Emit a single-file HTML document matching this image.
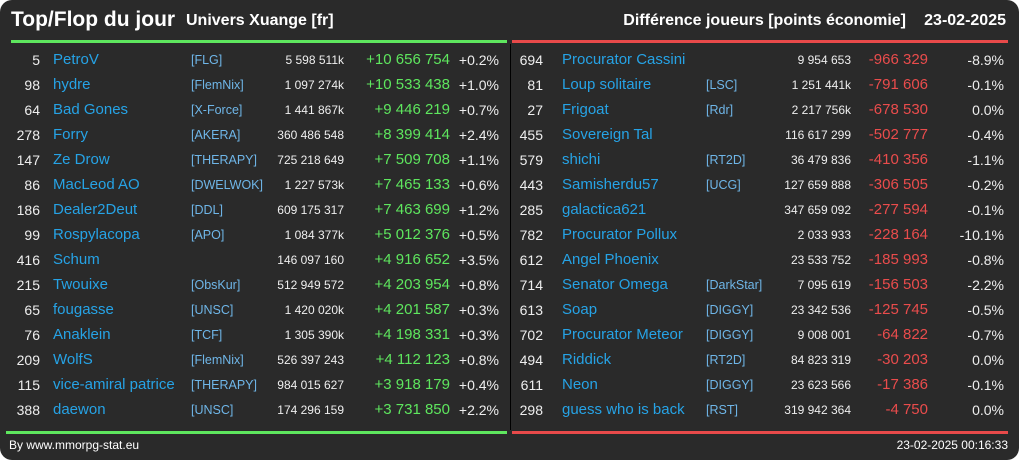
<!DOCTYPE html>
<html><head><meta charset="utf-8"><style>
body{margin:0;background:#fff;width:1019px;height:460px;overflow:hidden;font-family:"Liberation Sans",sans-serif}
#card{position:absolute;left:0;top:0;width:1019px;height:460px;background:#2a2a2a;border-radius:12px;overflow:hidden}
.t{position:absolute;white-space:nowrap;line-height:16px}
.bar{position:absolute;height:3px}
</style></head><body>
<div id="card">
<div class="t" style="left:11px;top:8px;font-size:21px;font-weight:bold;color:#fff;line-height:24px">Top/Flop du jour</div>
<div class="t" style="left:186px;top:11px;font-size:16px;font-weight:bold;color:#fff;line-height:20px">Univers Xuange [fr]</div>
<div class="t" style="right:113px;top:11px;font-size:16px;font-weight:bold;color:#fff;line-height:20px">Différence joueurs [points économie]</div>
<div class="t" style="right:13px;top:11px;font-size:16px;font-weight:bold;color:#fff;line-height:20px">23-02-2025</div>
<div class="bar" style="left:11px;width:496px;top:40px;background:#5ee65e"></div>
<div class="bar" style="left:512px;width:496px;top:40px;background:#e84a4a"></div>
<div class="bar" style="left:6px;width:501px;top:431px;background:#5ee65e"></div>
<div class="bar" style="left:512px;width:496px;top:431px;background:#e84a4a"></div>
<div style="position:absolute;left:510px;top:44px;width:1px;height:386px;background:#000"></div>
<div class="t" style="left:9px;top:437px;font-size:12px;color:#fff">By www.mmorpg-stat.eu</div>
<div class="t" style="right:11px;top:437px;font-size:12px;color:#fff">23-02-2025 00:16:33</div>
</div>
<script>
const topRanks=[5,98,64,278,147,86,186,99,416,215,65,76,209,115,388];
const topNames=["PetroV","hydre","Bad Gones","Forry","Ze Drow","MacLeod AO","Dealer2Deut","Rospylacopa","Schum","Twouixe","fougasse","Anaklein","WolfS","vice-amiral patrice","daewon"];
const topTags=["[FLG]","[FlemNix]","[X-Force]","[AKERA]","[THERAPY]","[DWELWOK]","[DDL]","[APO]","","[ObsKur]","[UNSC]","[TCF]","[FlemNix]","[THERAPY]","[UNSC]"];
const topPoints=["5 598 511k","1 097 274k","1 441 867k","360 486 548","725 218 649","1 227 573k","609 175 317","1 084 377k","146 097 160","512 949 572","1 420 020k","1 305 390k","526 397 243","984 015 627","174 296 159"];
const topDiff=["+10 656 754","+10 533 438","+9 446 219","+8 399 414","+7 509 708","+7 465 133","+7 463 699","+5 012 376","+4 916 652","+4 203 954","+4 201 587","+4 198 331","+4 112 123","+3 918 179","+3 731 850"];
const topPct=["+0.2%","+1.0%","+0.7%","+2.4%","+1.1%","+0.6%","+1.2%","+0.5%","+3.5%","+0.8%","+0.3%","+0.3%","+0.8%","+0.4%","+2.2%"];
const flopRanks=[694,81,27,455,579,443,285,782,612,714,613,702,494,611,298];
const flopNames=["Procurator Cassini","Loup solitaire","Frigoat","Sovereign Tal","shichi","Samisherdu57","galactica621","Procurator Pollux","Angel Phoenix","Senator Omega","Soap","Procurator Meteor","Riddick","Neon","guess who is back"];
const flopTags=["","[LSC]","[Rdr]","","[RT2D]","[UCG]","","","","[DarkStar]","[DIGGY]","[DIGGY]","[RT2D]","[DIGGY]","[RST]"];
const flopPoints=["9 954 653","1 251 441k","2 217 756k","116 617 299","36 479 836","127 659 888","347 659 092","2 033 933","23 533 752","7 095 619","23 342 536","9 008 001","84 823 319","23 623 566","319 942 364"];
const flopDiff=["-966 329","-791 606","-678 530","-502 777","-410 356","-306 505","-277 594","-228 164","-185 993","-156 503","-125 745","-64 822","-30 203","-17 386","-4 750"];
const flopPct=["-8.9%","-0.1%","0.0%","-0.4%","-1.1%","-0.2%","-0.1%","-10.1%","-0.8%","-2.2%","-0.5%","-0.7%","0.0%","-0.1%","0.0%"];
const card=document.getElementById('card');
function put(txt,x,y,align,size,color,name){
  const d=document.createElement('div');d.className='t';d.textContent=txt;
  
  
  d.style.top=(y-8)+'px';d.style.fontSize=size+'px';d.style.color=color;
  if(align==='r'){d.style.right=(1019-x)+'px';}else d.style.left=x+'px';
  card.appendChild(d);
}
const rowY=i=>60+i*25;
function side(ranks,names,tags,pts,diff,pct,cols,dcol,prefix){
  ranks.forEach((r,i)=>{
    const y=rowY(i);
    put(String(r),cols[0],y,'r',14,'#eee',prefix+'-rank');
    put(names[i],cols[1],y,'l',15,'#26a3e6',prefix+'-player-name');
    if(tags[i])put(tags[i],cols[2],y,'l',12.5,'#6fb6e8',prefix+'-alliance-tag');
    put(pts[i],cols[3],y,'r',12,'#eee',prefix+'-points');
    put(diff[i],cols[4],y,'r',15,dcol,prefix+'-difference');
    put(pct[i],cols[5],y,'r',14,'#eee',prefix+'-percent');
  });
}
side(topRanks,topNames,topTags,topPoints,topDiff,topPct,[40,53,191,344,450,499],'#5ee65e','top');
side(flopRanks,flopNames,flopTags,flopPoints,flopDiff,flopPct,[543,562,706,851,928,1004],'#ea4c4c','flop');
</script>
</body></html>
